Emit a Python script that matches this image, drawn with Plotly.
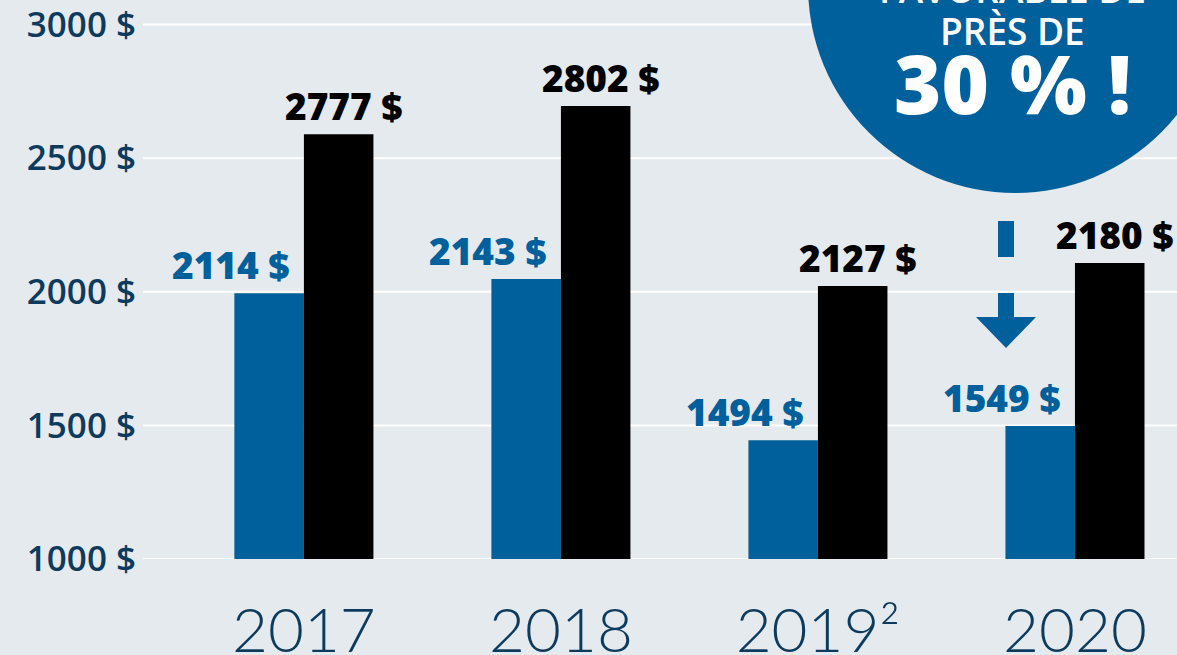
import plotly.graph_objects as go

# ---- data ----
years = ["2017", "2018", "2019", "2020"]
year_ticktext = ["2017", "2018", "2019²", "2020"]
blue_values = [1995, 2048, 1444, 1498]      # bar heights as drawn
black_values = [2590, 2695, 2022, 2108]     # bar heights as drawn
blue_labels = ["2114 $", "2143 $", "1494 $", "1549 $"]
black_labels = ["2777 $", "2802 $", "2127 $", "2180 $"]
y_ticks = [1000, 1500, 2000, 2500, 3000]
y_ticktext = ["1000 $", "1500 $", "2000 $", "2500 $", "3000 $"]
circle_lines = ["FAVORABLE DE", "PRÈS DE", "30 % !"]

# ---- style ----
W, H = 1177, 655
L, R, T, B = 143, 0, 0, 96
BG = "#e5eaef"
BLUE = "#00609c"
NAVY = "#0d3b5e"
HEAVY = "Open Sans"

PW, PH = W - L - R, H - T - B


def px(x):
    return (x - L) / PW


def py(y):
    return (H - B - y) / PH


fig = go.Figure()
idx = list(range(len(years)))
fig.add_trace(go.Bar(x=idx, y=blue_values, marker=dict(color=BLUE, line=dict(width=0)),
                     hoverinfo="skip"))
fig.add_trace(go.Bar(x=idx, y=black_values, marker=dict(color="#000000", line=dict(width=0)),
                     hoverinfo="skip"))

annotations = []
for i, v, t in zip(idx, blue_values, blue_labels):
    annotations.append(dict(x=i, y=v, xref="x", yref="y", text=t, showarrow=False,
                            xanchor="right", yanchor="bottom", xshift=-12, yshift=1,
                            font=dict(family=HEAVY, size=37, color=BLUE, weight=800)))
for i, v, t in zip(idx, black_values, black_labels):
    annotations.append(dict(x=i, y=v, xref="x", yref="y", text=t, showarrow=False,
                            xanchor="center", yanchor="bottom", xshift=40, yshift=1,
                            font=dict(family=HEAVY, size=37, color="#000000", weight=800)))

# circle callout
annotations.append(dict(x=px(1012), y=py(-11), xref="paper", yref="paper", text=circle_lines[0],
                        showarrow=False, xanchor="center", yanchor="middle",
                        font=dict(family="Open Sans", size=37, color="white", weight=600)))
annotations.append(dict(x=px(1012), y=py(30), xref="paper", yref="paper", text=circle_lines[1],
                        showarrow=False, xanchor="center", yanchor="middle",
                        font=dict(family="Open Sans", size=37, color="white", weight=600)))
annotations.append(dict(x=px(1012), y=py(83), xref="paper", yref="paper", text=circle_lines[2],
                        showarrow=False, xanchor="center", yanchor="middle",
                        font=dict(family=HEAVY, size=81, color="white", weight=800)))

shapes = []
# y gridlines
for v in y_ticks:
    shapes.append(dict(type="line", xref="paper", yref="y", x0=0, x1=1, y0=v, y1=v,
                       line=dict(color="white", width=2), layer="below"))
# circle
cx, cy, r = 1015, -14, 207
shapes.append(dict(type="circle", xref="paper", yref="paper", x0=px(cx - r), x1=px(cx + r),
                   y0=py(cy + r), y1=py(cy - r), fillcolor=BLUE, line=dict(width=0), layer="below"))
# arrow
shapes.append(dict(type="rect", xref="paper", yref="paper", x0=px(998), x1=px(1014),
                   y0=py(257), y1=py(221), fillcolor=BLUE, line=dict(width=0), layer="above"))
shapes.append(dict(type="path", xref="paper", yref="paper",
                   path=(f"M {px(998)} {py(293)} L {px(1014)} {py(293)} L {px(1014)} {py(317)} "
                         f"L {px(1036)} {py(317)} L {px(1006)} {py(348)} L {px(976)} {py(317)} "
                         f"L {px(998)} {py(317)} Z"),
                   fillcolor=BLUE, line=dict(width=0), layer="above"))

fig.update_layout(
    template="none",
    width=W, height=H,
    margin=dict(l=L, r=R, t=T, b=B, pad=0, autoexpand=False),
    paper_bgcolor=BG, plot_bgcolor=BG,
    barmode="group", bargap=0.459, bargroupgap=0,
    showlegend=False,
    annotations=annotations,
    shapes=shapes,
    xaxis=dict(range=[-0.626, 3.397], tickvals=idx, ticktext=year_ticktext,
               showgrid=False, zeroline=False, showline=False, ticks="", automargin=False,
               tickfont=dict(family="Lato", size=62, color=NAVY, weight=300),
               ticklabelstandoff=30, ticklabeloverflow="allow"),
    yaxis=dict(range=[1000, 3092], tickvals=y_ticks, ticktext=y_ticktext,
               showgrid=False, zeroline=False, showline=False, ticks="", automargin=False,
               tickfont=dict(family="Open Sans", size=35, color=NAVY, weight=600),
               ticklabelstandoff=6, ticklabeloverflow="allow"),
)

fig.write_html("out.html", config={"displayModeBar": False, "staticPlot": True},
               post_script="document.body.style.margin='0';document.body.style.overflow='hidden';")
